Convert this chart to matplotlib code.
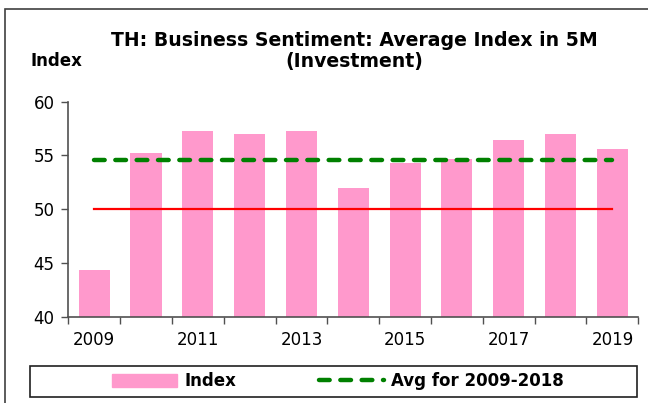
import matplotlib.pyplot as plt
import numpy as np
from matplotlib.patches import Rectangle
from matplotlib.lines import Line2D

years = ['2009', '2010', '2011', '2012', '2013', '2014',
         '2015', '2016', '2017', '2018', '2019']
index_vals = [44.3, 55.2, 57.3, 57.0, 57.3, 52.0, 54.3, 54.7, 56.4, 57.0, 55.6]
avg_2009_2018 = 54.6
threshold = 50
year_labels = ['2009', '', '2011', '', '2013', '', '2015', '', '2017', '', '2019']

plt.rcParams['font.family'] = ['DejaVu Sans']

W, H = 648, 403
fig = plt.figure(figsize=(W / 100, H / 100), dpi=100)
ax = fig.add_axes([68.3 / W, 1 - 316.7 / H, (638.3 - 68.3) / W, (316.7 - 101.7) / H])

x = np.arange(len(years))
ax.bar(x, index_vals, width=0.6, color='#FF99CC', edgecolor='none', zorder=2)
ax.plot([x[0], x[-1]], [threshold, threshold], color='#FF0000', lw=1.6, zorder=3)
ax.plot([x[0], x[-1]], [avg_2009_2018, avg_2009_2018], color='#008000', lw=3.2,
        dashes=(2.4, 2.4), dash_capstyle='round', zorder=4)

ax.set_xlim(-0.5, len(years) - 0.5)
ax.set_ylim(40, 60)
ax.set_yticks([40, 45, 50, 55, 60])
ax.set_xticks(x)
ax.set_xticklabels(year_labels)
ax.set_xticks(np.arange(-0.5, len(years), 1.0), minor=True)
ax.tick_params(axis='x', which='major', length=0, pad=10, labelsize=12)
ax.tick_params(axis='x', which='minor', length=5, width=1, color='#505050', direction='out')
ax.tick_params(axis='y', length=5, width=1, color='#505050', labelsize=12, pad=5)

for s in ['top', 'right']:
    ax.spines[s].set_visible(False)
for s in ['left', 'bottom']:
    ax.spines[s].set_color('#505050')
    ax.spines[s].set_linewidth(1.2)

fig.text(354 / W, 1 - 51 / H, 'TH: Business Sentiment: Average Index in 5M\n(Investment)',
         ha='center', va='center', fontsize=13.6, fontweight='bold', linespacing=1.15)
fig.text(30 / W, 1 - 61 / H, 'Index', ha='left', va='center', fontsize=12, fontweight='bold')

# outer frame
fig.patches.append(Rectangle((5 / W, -0.05), 1.1, 1 - 9.5 / H + 0.05, transform=fig.transFigure,
                             fill=False, edgecolor='#404040', lw=1.2))
# legend box
fig.patches.append(Rectangle((30 / W, 1 - 397.3 / H), (637.3 - 30) / W, 31.3 / H,
                             transform=fig.transFigure, fill=False, edgecolor='#202020', lw=1.2))

handles = [Rectangle((0, 0), 1, 1, color='#FF99CC'),
           Line2D([0], [0], color='#008000', lw=3.2, dashes=(2.4, 2.4), dash_capstyle='round')]
leg = fig.legend(handles, ['Index', 'Avg for 2009-2018'], loc='center',
                 bbox_to_anchor=(338 / W, 1 - 381.5 / H), ncol=2, frameon=False,
                 prop={'weight': 'bold', 'size': 12}, handlelength=3.9, handleheight=0.8,
                 columnspacing=5.0, handletextpad=0.4)

fig.savefig('out.png', dpi=100)
